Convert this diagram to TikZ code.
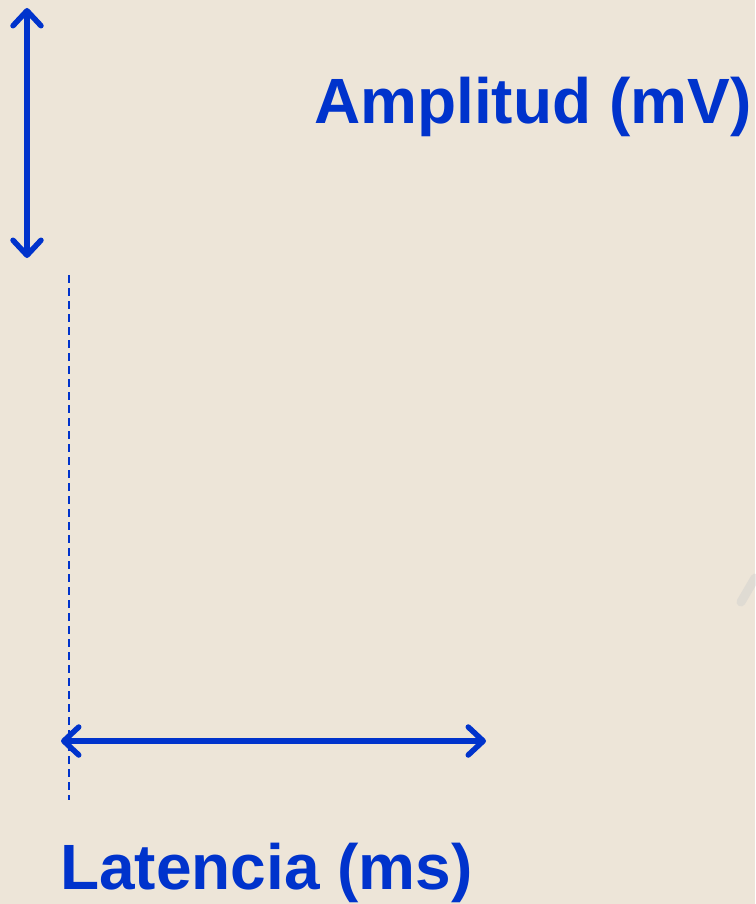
\documentclass[tikz,border=0pt]{standalone}
\usepackage{fontspec}
\setmainfont{Liberation Sans}
\usepackage{xcolor}
\usetikzlibrary{arrows.meta, positioning}
\definecolor{paperbeige}{RGB}{237, 229, 216}
\definecolor{axisblue}{RGB}{0, 51, 204}

\begin{document}
\begin{tikzpicture}[
    x=1pt, y=-1pt,
    label/.style={text=axisblue, font=\fontsize{64}{70}\selectfont\bfseries,
                  inner sep=0pt, anchor=base west},
    span/.style={draw=axisblue, line width=5.5pt,
                 {Straight Barb[length=15pt, width=28pt, line cap=round, line join=round]}-{Straight Barb[length=15pt, width=28pt, line cap=round, line join=round]}},
    guide/.style={draw=axisblue, line width=2pt, dash pattern=on 8pt off 5pt}
]
    % background
    \fill[paperbeige] (0,0) rectangle (755,904);
    \useasboundingbox (0,0) rectangle (755,904);

    % labels
    \node[label] (amplitud) at (314,124) {Amplitud (mV)};
    \node[label] (latencia) at (60,889) {Latencia (ms)};

    % end points
    \coordinate (ampTop) at (27,8);
    \coordinate (ampBot) at (27,258);
    \coordinate (latLeft) at (61,741);
    \coordinate (latRight) at (486,741);
    \coordinate (onsetTop) at (69,275);
    \coordinate (onsetBot) at (69,800);

    % arrows
    \draw[span] (ampTop) -- (ampBot);
    \draw[span] (latLeft) -- (latRight);
    \draw[guide] (onsetTop) -- (onsetBot);

    % faint smudge at right edge
    \draw[black!20, line width=9pt, line cap=round, opacity=0.4] (741,602) -- (755,578);
\end{tikzpicture}
\end{document}
